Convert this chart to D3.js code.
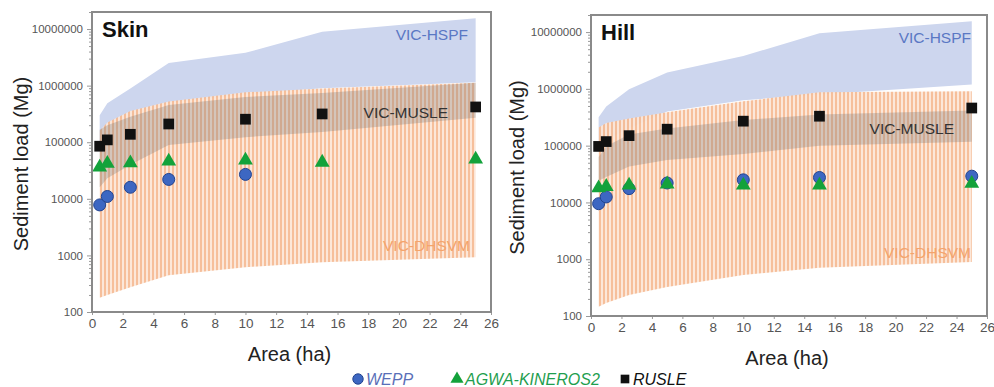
<!DOCTYPE html>
<html>
<head>
<meta charset="utf-8">
<script src="https://cdn.jsdelivr.net/npm/d3@7"></script>
<style>
body { margin: 0; background: #fff; }
svg { font-family: "Liberation Sans", Arial, sans-serif; }
</style>
</head>
<body>
<svg id="chart" width="994" height="387"></svg>
<script>
// shared x values and ticks
const areas = [0.5, 1, 2.5, 5, 10, 15, 25];
const xTicks = [0, 2, 4, 6, 8, 10, 12, 14, 16, 18, 20, 22, 24, 26];
const yTicks = [100, 1000, 10000, 100000, 1000000, 10000000];

// Skin
const skinWepp = [7800, 11000, 16000, 22000, 27000];
const skinAgwa = [36000, 42000, 43000, 46000, 48000, 44000, 50000];
const skinRusle = [85000, 110000, 138000, 210000, 255000, 316000, 420000];
const skinHspfLo = [100000, 130000, 250000, 500000, 700000, 900000, 1150000];
const skinHspfHi = [300000, 490000, 890000, 2500000, 3800000, 9000000, 15500000];
const skinDhsvmLo = [178, 200, 275, 447, 617, 760, 930];
const skinDhsvmHi = [160000, 224000, 355000, 525000, 760000, 890000, 1120000];
const skinMusleLo = [16000, 23000, 40000, 89000, 123000, 151000, 270000];
const skinMusleHi = [166000, 200000, 282000, 457000, 631000, 741000, 1120000];

// Hill
const hillWepp = [9500, 12500, 17500, 22000, 25000, 27500, 29000];
const hillAgwa = [18000, 19000, 20000, 21000, 20000, 20000, 21500];
const hillRusle = [97000, 118000, 150000, 195000, 270000, 330000, 460000];
const hillHspfLo = [100000, 126000, 200000, 400000, 630000, 800000, 1200000];
const hillHspfHi = [316000, 490000, 980000, 1950000, 3800000, 9500000, 15500000];
const hillDhsvmLo = [145, 170, 234, 324, 525, 708, 891];
const hillDhsvmHi = [209000, 251000, 302000, 389000, 603000, 871000, 912000];
const hillMusleLo = [24000, 28000, 43000, 56000, 71000, 100000, 117000];
const hillMusleHi = [63000, 98000, 158000, 200000, 282000, 355000, 417000];

const band = (lo, hi) => areas.map((a, i) => ({ x: a, lo: lo[i], hi: hi[i] }));
const pts = vals => vals.map((v, i) => ({ x: areas[i], v: v }));

const svg = d3.select('#chart');

// orange hatch used for VIC-DHSVM
const pat = svg.append('defs').append('pattern')
    .attr('id', 'hatch')
    .attr('patternUnits', 'userSpaceOnUse')
    .attr('width', 4)
    .attr('height', 4);
pat.append('rect').attr('width', 4).attr('height', 4).attr('fill', '#fce6d7');
pat.append('rect').attr('width', 2).attr('height', 4).attr('fill', '#f5bc96');

class SedimentPanel {

    constructor(config, data) {
        this.config = {
            parent: config.parent,
            left: config.left,
            top: config.top,
            width: config.width,
            height: config.height,
            title: config.title,
            labels: config.labels,
            yTitleX: config.yTitleX
        };
        this.data = data;
        this.init();
    }

    init() {
        let self = this;

        self.chart = self.config.parent.append('g')
            .attr('transform', `translate(${self.config.left}, ${self.config.top})`);

        self.x = d3.scaleLinear()
            .domain([0, 26])
            .range([0, self.config.width]);

        self.y = d3.scaleLog()
            .domain([100, 2e7])
            .range([self.config.height, 0]);

        self.area = d3.area()
            .x(d => self.x(d.x))
            .y0(d => self.y(d.lo))
            .y1(d => self.y(d.hi));
    }

    render() {
        let self = this;
        let w = self.config.width, h = self.config.height;

        // bands
        self.chart.append('path')
            .attr('d', self.area(self.data.hspf))
            .attr('fill', '#cdd6ee');
        self.chart.append('path')
            .attr('d', self.area(self.data.dhsvm))
            .attr('fill', 'url(#hatch)')
            .attr('opacity', 0.95);
        self.chart.append('path')
            .attr('d', self.area(self.data.musle))
            .attr('fill', '#777')
            .attr('opacity', 0.3);

        // band labels
        let lab = self.config.labels;
        [['VIC-HSPF', '#5a78c4', lab[0]], ['VIC-MUSLE', '#333', lab[1]], ['VIC-DHSVM', '#f4a46c', lab[2]]]
            .forEach(l => {
                self.chart.append('text')
                    .attr('x', l[2][0])
                    .attr('y', l[2][1])
                    .attr('text-anchor', 'end')
                    .attr('fill', l[1])
                    .style('font-size', '15.5px')
                    .text(l[0]);
            });

        // markers
        self.chart.selectAll('.wepp')
            .data(self.data.wepp).enter()
            .append('circle')
            .attr('cx', d => self.x(d.x))
            .attr('cy', d => self.y(d.v))
            .attr('r', 6)
            .attr('fill', '#3d67c2')
            .attr('stroke', '#23448f');

        self.chart.selectAll('.agwa')
            .data(self.data.agwa).enter()
            .append('path')
            .attr('d', d3.symbol(d3.symbolTriangle, 95))
            .attr('transform', d => `translate(${self.x(d.x)}, ${self.y(d.v)})`)
            .attr('fill', '#13a23b');

        self.chart.selectAll('.rusle')
            .data(self.data.rusle).enter()
            .append('path')
            .attr('d', d3.symbol(d3.symbolSquare, 115))
            .attr('transform', d => `translate(${self.x(d.x)}, ${self.y(d.v)})`)
            .attr('fill', '#111');

        // axes
        let yAxis = self.chart.append('g')
            .call(d3.axisLeft(self.y).tickValues(yTicks).tickFormat(d3.format('d')).tickSize(5).tickPadding(4));
        let minor = [];
        yTicks.slice(0, -1).forEach(t => d3.range(2, 10).forEach(k => minor.push(t * k)));
        minor.push(20000000);
        let yMinor = self.chart.append('g')
            .call(d3.axisLeft(self.y).tickValues(minor).tickFormat('').tickSize(3));
        let xAxis = self.chart.append('g')
            .attr('transform', `translate(0, ${h})`)
            .call(d3.axisBottom(self.x).tickValues(xTicks).tickSize(3).tickPadding(3));

        [yAxis, yMinor, xAxis].forEach(a => {
            a.select('.domain').remove();
            a.selectAll('line').attr('stroke', '#999');
            a.selectAll('text').attr('fill', '#555');
        });
        yAxis.selectAll('text').style('font-size', '11.5px');
        xAxis.selectAll('text').style('font-size', '13.5px');

        // frame
        self.chart.append('rect')
            .attr('width', w)
            .attr('height', h)
            .attr('fill', 'none')
            .attr('stroke', '#8a8a8a')
            .attr('stroke-width', 2);

        self.chart.append('text')
            .attr('x', 10)
            .attr('y', 25)
            .style('font-size', '22px')
            .style('font-weight', 'bold')
            .attr('fill', '#111')
            .text(self.config.title);

        self.chart.append('text')
            .attr('x', w / 2 - 2)
            .attr('y', h + 49)
            .attr('text-anchor', 'middle')
            .style('font-size', '20px')
            .attr('fill', '#222')
            .text('Area (ha)');

        self.chart.append('text')
            .attr('transform', `translate(${self.config.yTitleX - self.config.left}, ${h / 2 + 2}) rotate(-90)`)
            .attr('text-anchor', 'middle')
            .style('font-size', '20px')
            .attr('fill', '#222')
            .text('Sediment load (Mg)');
    }
}

let skin = new SedimentPanel({
    parent: svg, left: 92, top: 12, width: 399, height: 300, title: 'Skin',
    labels: [[376, 28], [356, 106], [378, 239]], yTitleX: 28
}, {
    hspf: band(skinHspfLo, skinHspfHi),
    dhsvm: band(skinDhsvmLo, skinDhsvmHi),
    musle: band(skinMusleLo, skinMusleHi),
    wepp: pts(skinWepp),
    agwa: pts(skinAgwa),
    rusle: pts(skinRusle)
});
skin.render();

let hill = new SedimentPanel({
    parent: svg, left: 591, top: 15, width: 396, height: 301, title: 'Hill',
    labels: [[380, 28], [363, 119], [380, 243]], yTitleX: 524
}, {
    hspf: band(hillHspfLo, hillHspfHi),
    dhsvm: band(hillDhsvmLo, hillDhsvmHi),
    musle: band(hillMusleLo, hillMusleHi),
    wepp: pts(hillWepp),
    agwa: pts(hillAgwa),
    rusle: pts(hillRusle)
});
hill.render();

// legend
const legendItems = ['WEPP', 'AGWA-KINEROS2', 'RUSLE'];
const legendColors = ['#5a6fb8', '#1f9e4f', '#111'];
const legendSymbols = [d3.symbolCircle, d3.symbolTriangle, d3.symbolSquare];
const legendX = [358, 457, 625];

const legend = svg.append('g');
legendItems.forEach((name, i) => {
    legend.append('path')
        .attr('d', d3.symbol(legendSymbols[i], i === 0 ? 85 : 75))
        .attr('transform', `translate(${legendX[i]}, 379)`)
        .attr('fill', i === 0 ? '#3d67c2' : i === 1 ? '#13a23b' : '#111')
        .attr('stroke', i === 0 ? '#23448f' : 'none');
    legend.append('text')
        .attr('x', legendX[i] + 8)
        .attr('y', 385)
        .style('font-size', '16px')
        .style('font-style', 'italic')
        .attr('fill', legendColors[i])
        .text(name);
});
</script>
</body>
</html>
